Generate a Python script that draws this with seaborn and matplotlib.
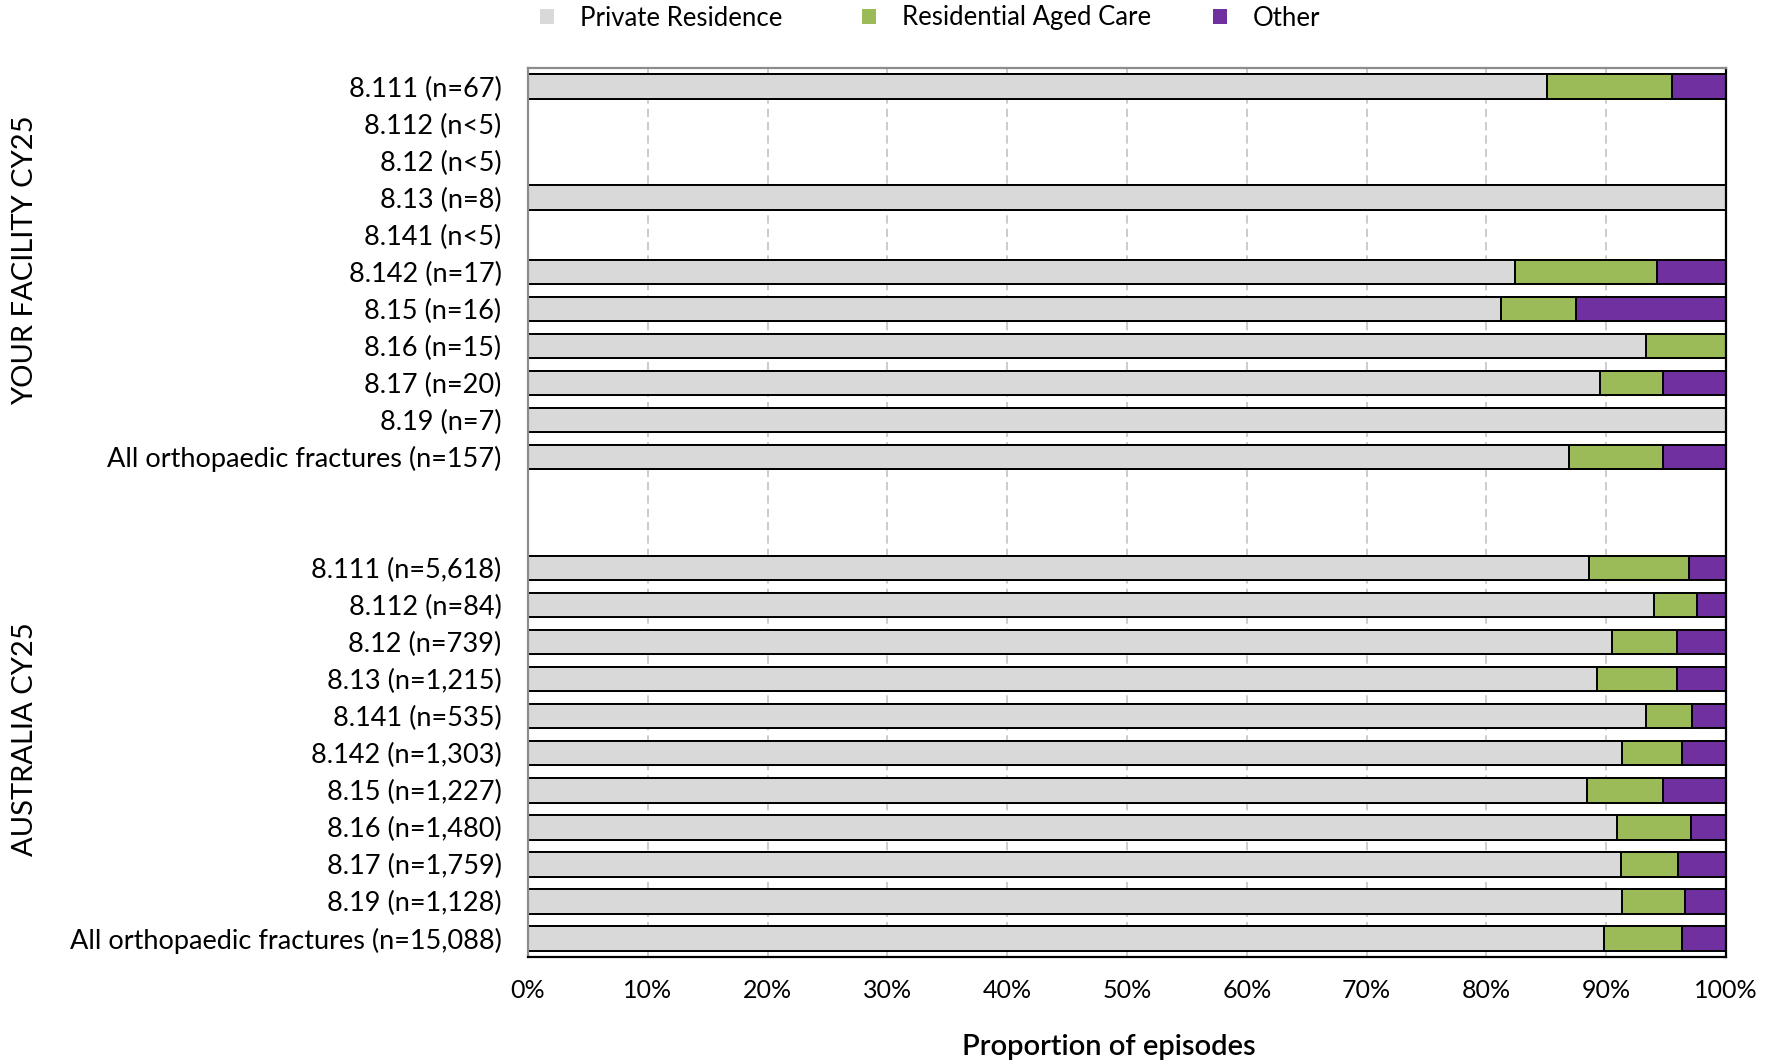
import numpy as np
import pandas as pd
import matplotlib
matplotlib.use("Agg")
import matplotlib.pyplot as plt
from matplotlib.patches import Patch
import seaborn as sns

# Discharge destination by fracture group (% of episodes)
facility_labels = [
    "8.111 (n=67)", "8.112 (n<5)", "8.12 (n<5)", "8.13 (n=8)", "8.141 (n<5)",
    "8.142 (n=17)", "8.15 (n=16)", "8.16 (n=15)", "8.17 (n=20)", "8.19 (n=7)",
    "All orthopaedic fractures (n=157)",
]
facility_private = [85.1, np.nan, np.nan, 100.0, np.nan, 82.4, 81.25, 93.3, 89.5, 100.0, 86.9]
facility_rac = [10.4, np.nan, np.nan, 0.0, np.nan, 11.8, 6.25, 6.7, 5.25, 0.0, 7.8]
facility_other = [4.5, np.nan, np.nan, 0.0, np.nan, 5.8, 12.5, 0.0, 5.25, 0.0, 5.3]

australia_labels = [
    "8.111 (n=5,618)", "8.112 (n=84)", "8.12 (n=739)", "8.13 (n=1,215)",
    "8.141 (n=535)", "8.142 (n=1,303)", "8.15 (n=1,227)", "8.16 (n=1,480)",
    "8.17 (n=1,759)", "8.19 (n=1,128)", "All orthopaedic fractures (n=15,088)",
]
australia_private = [88.6, 94.0, 90.5, 89.2, 93.3, 91.3, 88.4, 90.9, 91.2, 91.35, 89.85]
australia_rac = [8.3, 3.6, 5.4, 6.7, 3.9, 5.0, 6.3, 6.2, 4.8, 5.25, 6.5]
australia_other = [3.1, 2.4, 4.1, 4.1, 2.8, 3.7, 5.3, 2.9, 4.0, 3.4, 3.65]

series_names = ["Private Residence", "Residential Aged Care", "Other"]
series_colors = ["#d9d9d9", "#9bbb59", "#7030a0"]
group_titles = ["YOUR FACILITY CY25", "AUSTRALIA CY25"]
x_ticks = [0, 10, 20, 30, 40, 50, 60, 70, 80, 90, 100]

# Two blank spacer rows separate the groups
spacers = [" ", "  "]
order = facility_labels + spacers + australia_labels

df = pd.DataFrame({
    "row": facility_labels + australia_labels,
    "private": facility_private + australia_private,
    "rac": facility_rac + australia_rac,
    "other": facility_other + australia_other,
})
df["cum_private"] = df["private"]
df["cum_rac"] = df["private"] + df["rac"]
df["cum_other"] = df["private"] + df["rac"] + df["other"]

FONT = "Lato"
plt.rcParams["font.family"] = [FONT, "DejaVu Sans"]

W, H = 1779, 1062
fig = plt.figure(figsize=(W / 100, H / 100), dpi=100)
ax = fig.add_axes([528 / W, 1 - 957 / H, 1198 / W, 889 / H])

# Stacked bars: draw cumulative totals back to front
for col, color in zip(["cum_other", "cum_rac", "cum_private"], series_colors[::-1]):
    sns.barplot(data=df, y="row", x=col, order=order, orient="h", color=color,
                saturation=1, edgecolor="black", linewidth=1.4, width=0.66,
                errorbar=None, ax=ax)

ax.set_xlim(0, 100)
ax.set_xticks(x_ticks)
ax.set_xticklabels([f"{t}%" for t in x_ticks])
ax.set_axisbelow(True)
ax.xaxis.grid(True, linestyle=(0, (5, 3)), color="#c4c4c4", linewidth=1.2)
ax.yaxis.grid(False)

ax.tick_params(axis="both", length=0)
ax.tick_params(axis="y", pad=19, labelsize=19.5)
ax.tick_params(axis="x", pad=16, labelsize=18)
ax.set_ylabel("")
ax.set_xlabel("Proportion of episodes", fontsize=21, fontweight="semibold")
ax.xaxis.set_label_coords(0.4845, -0.0865)

for side in ["left", "top"]:
    ax.spines[side].set_color("#8c8c8c")
    ax.spines[side].set_linewidth(1.6)
for side in ["right", "bottom"]:
    ax.spines[side].set_color("black")
    ax.spines[side].set_linewidth(1.6)

fig.text(25 / W, 1 - 260 / H, group_titles[0], rotation=90,
         ha="center", va="center", fontsize=21)
fig.text(25 / W, 1 - 739 / H, group_titles[1], rotation=90,
         ha="center", va="center", fontsize=21)

# Legend entries sit at fixed positions along the top
legend_x = [540, 862, 1213]
for name, color, lx in zip(series_names, series_colors, legend_x):
    fig.legend([Patch(facecolor=color, edgecolor="none")], [name], loc="center left",
               bbox_to_anchor=(lx / W, 1 - 18 / H), frameon=False, fontsize=18.5,
               handlelength=0.55, handleheight=0.55, handletextpad=1.0,
               borderpad=0, borderaxespad=0)

fig.savefig("out.png", dpi=100, facecolor="white")
